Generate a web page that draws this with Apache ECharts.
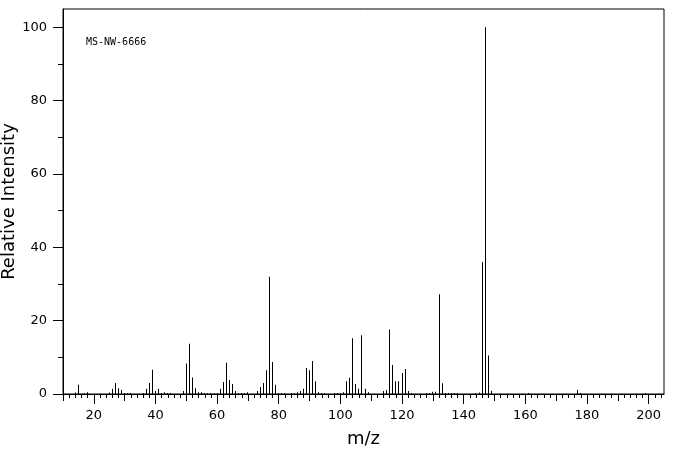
<!DOCTYPE html>
<html>
<head>
<meta charset="utf-8">
<script src="https://cdn.jsdelivr.net/npm/echarts@6/dist/echarts.min.js"></script>
<style>
  html, body { margin: 0; padding: 0; background: #fff; }
  .box { width: 676px; height: 455px; }
</style>
</head>
<body>
<div class="box"></div>
<script>
// peaks: m/z and relative intensity
const mz = [14, 15, 17, 18, 25, 26, 27, 28, 29, 30, 31, 32, 36, 37, 38, 39, 40, 41, 42, 43, 44, 45,
    49, 50, 51, 52, 53, 54, 55, 56, 57, 58, 59, 60, 61, 62, 63, 64, 65, 66, 67, 68, 69, 70,
    73, 74, 75, 76, 77, 78, 79, 80, 81, 82, 84, 85, 86, 87, 88, 89, 90, 91, 92, 93, 94, 95,
    98, 99, 100, 101, 102, 103, 104, 105, 106, 107, 108, 109, 114, 115, 116, 117, 118, 119, 120, 121, 122, 123,
    128, 129, 130, 131, 132, 133, 134, 135, 136, 137, 138, 144, 145, 146, 147, 148, 149, 161, 177, 178, 199];
const intensity = [0.4, 2.5, 0.3, 0.5, 0.4, 1.4, 3.0, 1.6, 1.1, 0.3, 0.3, 0.3, 0.3, 1.4, 3.0, 6.6, 0.8, 1.4, 0.3, 0.5, 0.3, 0.3,
    0.8, 8.3, 13.7, 4.5, 1.6, 0.5, 0.5, 0.3, 0.3, 0.3, 0.3, 0.3, 1.4, 3.3, 8.5, 3.8, 2.7, 0.8, 0.3, 0.3, 0.3, 0.5,
    0.8, 1.9, 3.0, 6.5, 32.0, 8.7, 2.5, 0.3, 0.3, 0.3, 0.3, 0.3, 0.5, 0.8, 1.4, 7.1, 6.5, 9.0, 3.5, 0.5, 0.3, 0.3,
    0.3, 0.3, 0.3, 0.5, 3.5, 4.4, 15.2, 2.7, 1.4, 16.0, 1.4, 0.5, 0.8, 1.1, 17.6, 7.9, 3.5, 3.5, 5.7, 6.8, 0.8, 0.3,
    0.3, 0.3, 0.6, 0.6, 27.2, 2.9, 0.3, 0.3, 0.3, 0.3, 0.3, 0.3, 0.4, 36.0, 100, 10.5, 0.9, 0.3, 1.1, 0.3, 0.3];

const xLabelTicks = [20, 40, 60, 80, 100, 120, 140, 160, 180, 200];
const xMidTicks = [10, 30, 50, 70, 90, 110, 130, 150, 170, 190];
const xSmallTicks = [12, 14, 16, 18, 22, 24, 26, 28, 32, 34, 36, 38, 42, 44, 46, 48, 52, 54, 56, 58,
    62, 64, 66, 68, 72, 74, 76, 78, 82, 84, 86, 88, 92, 94, 96, 98, 102, 104, 106, 108,
    112, 114, 116, 118, 122, 124, 126, 128, 132, 134, 136, 138, 142, 144, 146, 148,
    152, 154, 156, 158, 162, 164, 166, 168, 172, 174, 176, 178, 182, 184, 186, 188,
    192, 194, 196, 198, 202, 204];
const yLabelTicks = [0, 20, 40, 60, 80, 100];
const yMinorTicks = [10, 30, 50, 70, 90];

const chartDom = document.getElementsByClassName('box')[0];
const myChart = echarts.init(chartDom);

const font = 'DejaVu Sans';
const black = '#000';

function tickAxis(values, len, showLine) {
    return {
        type: 'value',
        min: 10,
        max: 205,
        position: 'bottom',
        axisLine: { show: showLine, onZero: false, lineStyle: { color: black, width: 1 } },
        axisTick: { show: true, customValues: values, length: len, lineStyle: { color: black, width: 1 } },
        axisLabel: { show: false },
        splitLine: { show: false }
    };
}

const xMain = tickAxis(xLabelTicks, 10, true);
xMain.name = 'm/z';
xMain.nameLocation = 'middle';
xMain.nameGap = 36;
xMain.nameMoveOverlap = false;
xMain.nameTextStyle = { fontFamily: font, fontSize: 18, color: black };
xMain.axisLabel = {
    show: true,
    customValues: xLabelTicks,
    margin: 15,
    fontFamily: font,
    fontSize: 13,
    color: black
};

// one crisp 1px stick per peak
function renderPeak(params, api) {
    const top = api.coord([api.value(0), api.value(1)]);
    const base = api.coord([api.value(0), 0]);
    return {
        type: 'rect',
        shape: { x: Math.floor(top[0]), y: top[1], width: 1, height: base[1] - top[1] },
        style: { fill: black }
    };
}

const option = {
    animation: false,
    backgroundColor: '#fff',
    title: {
        text: 'MS-NW-6666',
        left: 81,
        top: 32,
        textStyle: { fontFamily: 'DejaVu Sans Mono', fontSize: 10, fontWeight: 'normal', color: black }
    },
    grid: {
        left: 63,
        right: 12,
        top: 9,
        bottom: 61,
        show: true,
        borderColor: black,
        borderWidth: 1,
        containLabel: false,
        outerBoundsMode: 'none'
    },
    xAxis: [
        xMain,
        tickAxis(xMidTicks, 7, false),
        tickAxis(xSmallTicks, 4, false)
    ],
    yAxis: [
        {
            type: 'value',
            min: 0,
            max: 105,
            name: 'Relative Intensity',
            nameLocation: 'middle',
            nameGap: 45,
            nameMoveOverlap: false,
            nameTextStyle: { fontFamily: font, fontSize: 18, color: black },
            axisLine: { show: true, lineStyle: { color: black, width: 1 } },
            axisTick: { show: true, customValues: yLabelTicks, length: 10, lineStyle: { color: black } },
            axisLabel: {
                customValues: yLabelTicks,
                margin: 16,
                fontFamily: font,
                fontSize: 13,
                color: black
            },
            splitLine: { show: false }
        },
        {
            type: 'value',
            min: 0,
            max: 105,
            position: 'left',
            axisLine: { show: false },
            axisTick: { show: true, customValues: yMinorTicks, length: 5, lineStyle: { color: black } },
            axisLabel: { show: false },
            splitLine: { show: false }
        }
    ],
    series: [
        {
            type: 'custom',
            xAxisIndex: 0,
            yAxisIndex: 0,
            renderItem: renderPeak,
            data: mz.map((m, i) => [m, intensity[i]])
        }
    ]
};

myChart.setOption(option);
</script>
</body>
</html>
